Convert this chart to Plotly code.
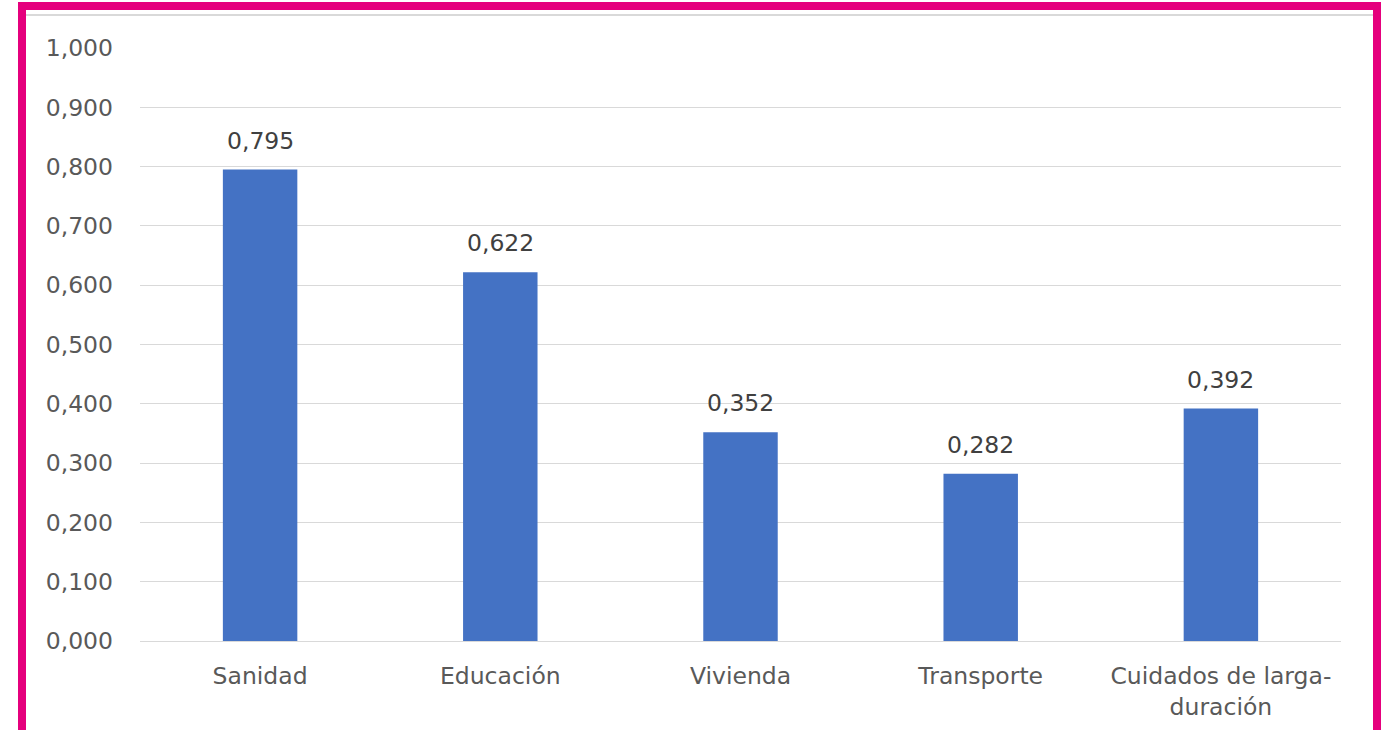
import plotly.graph_objects as go

categories = ["Sanidad", "Educación", "Vivienda", "Transporte", "Cuidados de larga-<br>duración"]
values = [0.795, 0.622, 0.352, 0.282, 0.392]
tick_vals = [0.0, 0.1, 0.2, 0.3, 0.4, 0.5, 0.6, 0.7, 0.8, 0.9, 1.0]
value_labels = [f"{v:.3f}".replace(".", ",") for v in values]

W, H = 1389, 730
ml, mr, mt, mb = 140, 48, 48, 89
pw, ph = W - ml - mr, H - mt - mb

def px(x):
    return (x - ml) / pw

def py(y):
    return (H - mb - y) / ph

FONT = "DejaVu Sans, Verdana, sans-serif"
FS = 23.5

fig = go.Figure(go.Bar(
    x=categories, y=values,
    marker=dict(color="#4472C4", line=dict(width=0)),
    hoverinfo="x+y",
))

for c, v, t in zip(categories, values, value_labels):
    fig.add_annotation(x=c, y=v, text=t, showarrow=False, yanchor="bottom",
                       yshift=13, font=dict(family=FONT, size=FS, color="#404040"))

fig.update_layout(
    width=W, height=H,
    margin=dict(l=ml, r=mr, t=mt, b=mb),
    paper_bgcolor="white", plot_bgcolor="white",
    separators=",.",
    bargap=0.69,
    showlegend=False,
    font=dict(family=FONT, size=FS, color="#595959"),
    xaxis=dict(showgrid=False, showline=True, linecolor="#d9d9d9", linewidth=1,
               ticks="", ticklabelstandoff=14, automargin=False,
               tickfont=dict(family=FONT, size=FS, color="#595959")),
    yaxis=dict(range=[0, 1.0], tickvals=tick_vals, tickformat=".3f",
               showgrid=True, gridcolor="#d9d9d9", gridwidth=1,
               zeroline=False, showline=False, ticks="",
               ticklabelstandoff=26, automargin=False,
               tickfont=dict(family=FONT, size=FS, color="#595959")),
    shapes=[
        dict(type="line", xref="paper", yref="paper",
             x0=px(26), x1=px(1373), y0=py(15), y1=py(15),
             line=dict(color="#d9d9d9", width=2)),
        dict(type="rect", xref="paper", yref="paper",
             x0=px(22), x1=px(1377), y0=py(745), y1=py(6),
             line=dict(color="#E5007D", width=8), fillcolor="rgba(0,0,0,0)"),
    ],
)

fig.write_html("out.html", config={"displayModeBar": False},
               post_script="document.body.style.margin='0';document.body.style.overflow='hidden';")
